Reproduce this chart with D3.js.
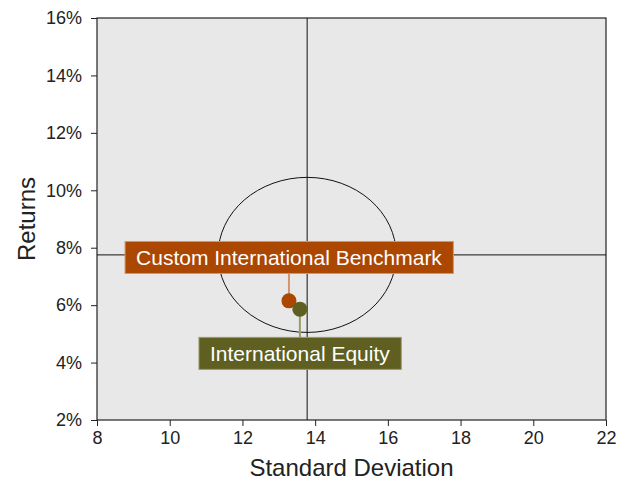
<!DOCTYPE html>
<html>
<head>
<meta charset="UTF-8" />
<script src="https://d3js.org/d3.v7.min.js"></script>
<style>
  body { margin: 0; background: #fff; font-family: "Liberation Sans", Arial, sans-serif; }
  .tick text { font-size: 18px; fill: #222; font-family: "Liberation Sans", Arial, sans-serif; }
  .axis-label { font-size: 24px; fill: #222; }
</style>
</head>
<body>
<svg width="630" height="481"></svg>
<script>
  const xTicks = [8, 10, 12, 14, 16, 18, 20, 22];
  const yTicks = [2, 4, 6, 8, 10, 12, 14, 16];
  const names = ["Custom International Benchmark", "International Equity"];
  const stdDev = [13.28, 13.58];
  const returns = [6.15, 5.86];
  const colors = ["#AB4700", "#5E5F20"];
  const leaderColors = ["#D4956E", "#9A9A6A"];
  const labelY = [7.66, 4.32];                  // label centres (returns)
  const center = [13.78, 7.75];                 // cross lines / ellipse centre
  const radius = [2.45, 2.7];

  const svg = d3.select("svg"),
        margin = {top: 18, right: 24, bottom: 61, left: 97},
        width = +svg.attr("width") - margin.left - margin.right,
        height = +svg.attr("height") - margin.top - margin.bottom;
  const g = svg.append("g").attr("transform", `translate(${margin.left},${margin.top})`);

  const x = d3.scaleLinear().domain([8, 22]).range([0, width]);
  const y = d3.scaleLinear().domain([2, 16]).range([height, 0]);

  g.append("rect").attr("width", width).attr("height", height).attr("fill", "#E8E8E8");

  // axes
  const xAxis = g.append("g").attr("transform", `translate(0,${height})`)
    .call(d3.axisBottom(x).tickValues(xTicks).tickSize(6).tickPadding(5));
  const yAxis = g.append("g")
    .call(d3.axisLeft(y).tickValues(yTicks).tickSize(6).tickPadding(9).tickFormat(d => d + "%"));
  [xAxis, yAxis].forEach(a => {
    a.select(".domain").remove();
    a.selectAll("line").attr("stroke", "#222");
  });

  // frame
  g.append("rect").attr("width", width).attr("height", height)
    .attr("fill", "none").attr("stroke", "#222").attr("stroke-width", 1.2);

  // cross lines
  g.append("line").attr("x1", x(center[0])).attr("x2", x(center[0]))
    .attr("y1", 0).attr("y2", height).attr("stroke", "#111");
  g.append("line").attr("x1", 0).attr("x2", width)
    .attr("y1", y(center[1])).attr("y2", y(center[1])).attr("stroke", "#111");

  // ellipse
  g.append("ellipse")
    .attr("cx", x(center[0])).attr("cy", y(center[1]))
    .attr("rx", x(center[0] + radius[0]) - x(center[0]))
    .attr("ry", y(center[1]) - y(center[1] + radius[1]))
    .attr("fill", "none").attr("stroke", "#111").attr("stroke-width", 1);

  // leaders, points and labels
  names.forEach((name, i) => {
    const px = x(stdDev[i]), py = y(returns[i]);
    g.append("line").attr("x1", px).attr("x2", px).attr("y1", py).attr("y2", y(labelY[i]))
      .attr("stroke", leaderColors[i]).attr("stroke-width", 2);
  });
  names.forEach((name, i) => {
    g.append("circle").attr("cx", x(stdDev[i])).attr("cy", y(returns[i]))
      .attr("r", 7.5).attr("fill", colors[i]);
  });
  names.forEach((name, i) => {
    const lg = g.append("g").attr("transform", `translate(${x(stdDev[i])},${y(labelY[i])})`);
    const t = lg.append("text").attr("text-anchor", "middle").attr("dy", "0.36em")
      .attr("fill", "#fff").style("font-size", "21px").text(name);
    const bb = t.node().getBBox();
    lg.insert("rect", "text")
      .attr("x", bb.x - 11).attr("y", -16).attr("width", bb.width + 22).attr("height", 32)
      .attr("fill", colors[i]).attr("stroke", leaderColors[i]).attr("stroke-width", 1);
  });

  // axis labels
  svg.append("text").attr("class", "axis-label").attr("text-anchor", "middle")
    .attr("x", margin.left + width / 2).attr("y", 476).text("Standard Deviation");
  svg.append("text").attr("class", "axis-label").attr("text-anchor", "middle")
    .attr("transform", `translate(35,${margin.top + height / 2}) rotate(-90)`).text("Returns");
</script>
</body>
</html>
